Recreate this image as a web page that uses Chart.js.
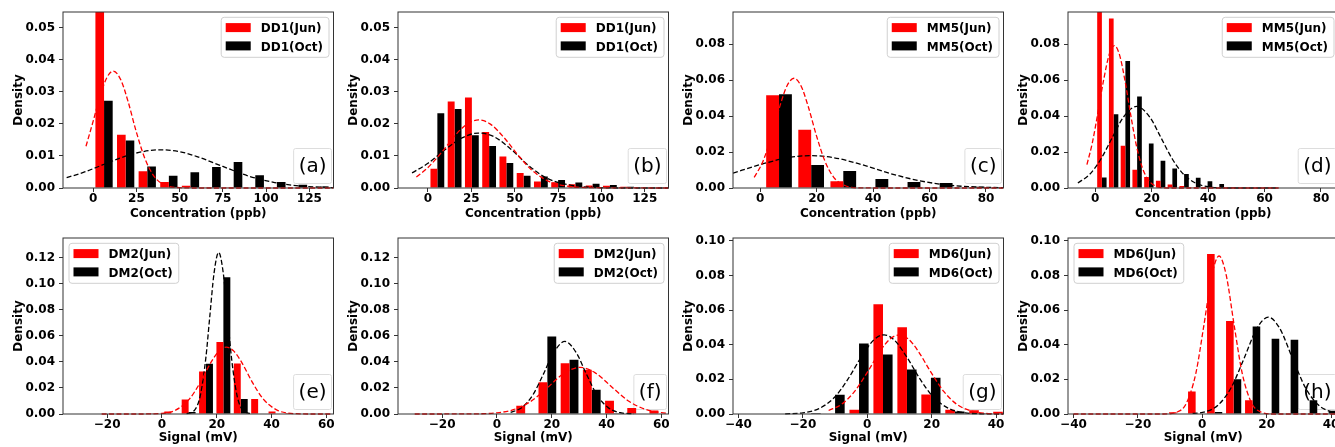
<!DOCTYPE html>
<html>
<head>
<meta charset="utf-8">
<script src="https://cdn.jsdelivr.net/npm/chart.js@4.4.1/dist/chart.umd.min.js"></script>
<style>
  body { margin: 0; background: #fff; overflow: hidden; }
  #fig { position: relative; width: 1335px; height: 447px; overflow: hidden; background: #fff; }
  #fig canvas { position: absolute; }
</style>
</head>
<body>
<div id="fig">
  <canvas id="pa" width="342" height="226" style="left:0px;top:0px"></canvas>
  <canvas id="pb" width="342" height="226" style="left:335px;top:0px"></canvas>
  <canvas id="pc" width="342" height="226" style="left:670px;top:0px"></canvas>
  <canvas id="pd" width="342" height="226" style="left:1005px;top:0px"></canvas>
  <canvas id="pe" width="342" height="221" style="left:0px;top:226px"></canvas>
  <canvas id="pf" width="342" height="221" style="left:335px;top:226px"></canvas>
  <canvas id="pg" width="342" height="221" style="left:670px;top:226px"></canvas>
  <canvas id="ph" width="342" height="221" style="left:1005px;top:226px"></canvas>
</div>
<script>
// tick labels
const xTicksAB = [0, 25, 50, 75, 100, 125];
const xTicksCD = [0, 20, 40, 60, 80];
const xTicksEF = [-20, 0, 20, 40, 60];
const xTicksGH = [-40, -20, 0, 20, 40];
const yTicksAB = [0, 0.01, 0.02, 0.03, 0.04, 0.05];
const yTicksCD = [0, 0.02, 0.04, 0.06, 0.08];
const yTicksEF = [0, 0.02, 0.04, 0.06, 0.08, 0.10, 0.12];
const yTicksGH = [0, 0.02, 0.04, 0.06, 0.08, 0.10];

// (a) DD1 concentration
const binsA = [6.25, 18.75, 31.25, 43.75, 56.25, 68.75, 81.25, 93.75, 106.25, 118.75, 131.25];
const junA = [0.0556, 0.0166, 0.0052, 0.0019, 0.0007, 0.0002, 0.0001, 0, 0, 0, 0];
const octA = [0.0272, 0.0148, 0.0067, 0.0038, 0.0049, 0.0065, 0.0081, 0.0040, 0.0019, 0.0010, 0.0005];
const junFitXA = [-4.2, 0, 4, 8, 11.6, 16, 20, 25, 30, 35, 40, 50, 60, 80, 110, 139];
const junFitYA = [0.0130, 0.0209, 0.0287, 0.0345, 0.0364, 0.0336, 0.0272, 0.0173, 0.0090, 0.0038, 0.0013, 0.0001, 0, 0, 0, 0];
const octFitXA = [-15.4, -5, 5, 15, 25, 39, 50, 60, 75, 90, 105, 120, 139];
const octFitYA = [0.0032, 0.0050, 0.0071, 0.0092, 0.0109, 0.0119, 0.0113, 0.0098, 0.0067, 0.0037, 0.0017, 0.0006, 0.0001];

// (b) DD1 concentration
const binsB = [5.4, 15.35, 25.3, 35.25, 45.2, 55.15, 65.1, 75.05, 85.0, 94.95, 104.9, 114.85];
const junB = [0.0060, 0.0269, 0.0282, 0.0174, 0.0098, 0.0047, 0.0020, 0.0018, 0.0012, 0.0008, 0.0007, 0.0004];
const octB = [0.0233, 0.0246, 0.0164, 0.0131, 0.0078, 0.0038, 0.0036, 0.0025, 0.0017, 0.0013, 0.0009, 0.0004];
const junFitXB = [-6.7, 0, 8, 16, 22, 29.2, 36, 44, 52, 60, 70, 80, 95, 139];
const junFitYB = [0.0034, 0.0064, 0.0112, 0.0166, 0.0197, 0.0212, 0.0199, 0.0156, 0.0102, 0.0055, 0.0020, 0.0006, 0.0001, 0];
const octFitXB = [-9.2, 0, 10, 20, 29, 38, 48, 58, 68, 80, 95, 115, 139];
const octFitYB = [0.0047, 0.0077, 0.0120, 0.0157, 0.0171, 0.0160, 0.0120, 0.0070, 0.0032, 0.0011, 0.0002, 0, 0];

// (c) MM5 concentration
const binsC = [6.7, 18.08, 29.46, 40.84, 52.22, 63.6, 74.98];
const junC = [0.0517, 0.0324, 0.0037, 0.0003, 0, 0, 0];
const octC = [0.0522, 0.0128, 0.0094, 0.0050, 0.0033, 0.0028, 0.0007];
const junFitXC = [-2.1, 1, 4, 7, 9.5, 12, 14.5, 17, 20, 23, 26, 30, 35, 45, 86];
const junFitYC = [0.0059, 0.0148, 0.0289, 0.0456, 0.0568, 0.0611, 0.0568, 0.0456, 0.0289, 0.0148, 0.0061, 0.0014, 0.0001, 0, 0];
const octFitXC = [-9.6, 0, 10, 18, 26, 36, 46, 56, 66, 76, 86];
const octFitYC = [0.0083, 0.0130, 0.0169, 0.0180, 0.0169, 0.0130, 0.0081, 0.0042, 0.0017, 0.0006, 0.0002];

// (d) MM5 concentration
const binsD = [2.4, 6.56, 10.72, 14.88, 19.04, 23.2, 27.36, 31.52, 35.68, 39.84, 44.0, 48.16, 52.32];
const junD = [0.0990, 0.0944, 0.0235, 0.0102, 0.0061, 0.0041, 0.0019, 0.0011, 0.0004, 0.0002, 0, 0, 0];
const octD = [0.0059, 0.0411, 0.0707, 0.0509, 0.0248, 0.0152, 0.0109, 0.0078, 0.0057, 0.0037, 0.0022, 0.0006, 0.0003];
const junFitXD = [-2.9, -1, 1, 3, 5, 6.8, 8.6, 10.6, 12.6, 14.6, 16.7, 19, 22, 26, 65];
const junFitYD = [0.0130, 0.0250, 0.0420, 0.0600, 0.0744, 0.0793, 0.0744, 0.0596, 0.0408, 0.0238, 0.0114, 0.0042, 0.0008, 0, 0];
const octFitXD = [-6.1, -2, 2, 6, 10, 14.7, 19.4, 23.4, 27.4, 31.4, 35.5, 40, 48, 65];
const octFitYD = [0.0028, 0.0075, 0.0160, 0.0278, 0.0394, 0.0454, 0.0394, 0.0278, 0.0160, 0.0075, 0.0028, 0.0007, 0, 0];

// (e) DM2 signal
const binsE = [-2.94, 3.4, 9.74, 16.08, 22.42, 28.76, 35.1, 41.44, 47.78];
const junE = [0.0005, 0.0020, 0.0112, 0.0327, 0.0552, 0.0388, 0.0115, 0.0020, 0.0008];
const octE = [0, 0, 0.0015, 0.0386, 0.1050, 0.0115, 0, 0, 0];
const junFitXE = [-22, -10, 0, 5, 10, 14, 18, 21, 23.5, 26, 29, 33, 37, 42, 47, 55, 62];
const junFitYE = [0, 0, 0.0005, 0.0030, 0.0114, 0.0243, 0.0400, 0.0487, 0.0513, 0.0487, 0.0400, 0.0243, 0.0114, 0.0030, 0.0005, 0, 0];
const octFitXE = [9, 12, 14, 16, 17.5, 19, 20.7, 22.4, 23.9, 25.4, 27.4, 29.4, 32.4];
const octFitYE = [0.0002, 0.0032, 0.0142, 0.0427, 0.0757, 0.1079, 0.1240, 0.1079, 0.0757, 0.0427, 0.0142, 0.0032, 0.0002];

// (f) DM2 signal
const binsF = [2.2, 10.3, 18.4, 26.5, 34.6, 42.7, 50.8, 58.9];
const junF = [0, 0.0064, 0.0243, 0.0390, 0.0340, 0.0102, 0.0046, 0.0026];
const octF = [0, 0, 0.0595, 0.0416, 0.0186, 0.0005, 0, 0];
const junFitXF = [-30, -10, 0, 6, 12, 18, 24, 30.3, 36, 42, 48, 54, 60, 62.6];
const junFitYF = [0, 0.0001, 0.0009, 0.0033, 0.0092, 0.0194, 0.0305, 0.0358, 0.0314, 0.0206, 0.0100, 0.0037, 0.0010, 0.0005];
const octFitXF = [5, 9, 13, 17, 20.5, 24.8, 29.1, 32.6, 36.6, 40.6, 44.6, 50];
const octFitYF = [0.0012, 0.0049, 0.0143, 0.0308, 0.0465, 0.0557, 0.0465, 0.0308, 0.0143, 0.0049, 0.0012, 0.0001];

// (g) MD6 signal
const binsG = [-17.44, -10.0, -2.56, 4.88, 12.32, 19.76, 27.2, 34.64, 42.08];
const junG = [0, 0, 0.0025, 0.0633, 0.0501, 0.0113, 0.0025, 0.0021, 0.0013];
const octG = [0.0006, 0.0111, 0.0407, 0.0344, 0.0257, 0.0209, 0.0015, 0.0005, 0];
const junFitXG = [-12, -8, -4, 0, 4, 7, 9.9, 12.8, 15.8, 19.8, 23.8, 27.8, 31.8, 36, 42.3];
const junFitYG = [0.0020, 0.0056, 0.0129, 0.0240, 0.0363, 0.0432, 0.0456, 0.0432, 0.0363, 0.0240, 0.0129, 0.0056, 0.0020, 0.0005, 0.0001];
const octFitXG = [-25.5, -20, -15, -10, -6, -2, 2, 5.2, 8.4, 12.4, 16.4, 20.4, 25.4, 30.4, 36, 42.3];
const octFitYG = [0.0001, 0.0007, 0.0031, 0.0100, 0.0201, 0.0325, 0.0427, 0.0457, 0.0427, 0.0325, 0.0201, 0.0100, 0.0031, 0.0007, 0.0001, 0];

// (h) MD6 signal
const binsH = [-25.66, -19.76, -13.86, -7.96, -2.06, 3.84, 9.74, 15.64, 21.54, 27.44, 33.34, 39.24];
const junH = [0.0003, 0, 0, 0.0010, 0.0130, 0.0923, 0.0537, 0.0079, 0.0004, 0, 0, 0];
const octH = [0, 0, 0, 0, 0.0003, 0.0012, 0.0200, 0.0505, 0.0434, 0.0428, 0.0079, 0.0019];
const junFitXH = [-40, -12, -8, -5, -2, 0.5, 3, 5.2, 7.4, 9.9, 12.4, 15.4, 18.4, 22, 42.3];
const junFitYH = [0, 0, 0.0010, 0.0060, 0.0235, 0.0512, 0.0804, 0.0912, 0.0804, 0.0512, 0.0235, 0.0060, 0.0010, 0, 0];
const octFitXH = [-3, 1, 5, 9, 13, 17, 20.5, 24, 28, 32, 36, 40, 42.3];
const octFitYH = [0.0003, 0.0013, 0.0053, 0.0153, 0.0322, 0.0496, 0.0559, 0.0496, 0.0322, 0.0153, 0.0053, 0.0013, 0.0005];

const FONT = '"DejaVu Sans", sans-serif';
Chart.defaults.font.family = FONT;
Chart.defaults.font.size = 12;
Chart.defaults.font.weight = 'bold';
Chart.defaults.color = '#000';

const rowTop = { xTitle: 'Concentration (ppb)', axisH: 38, titlePad: 4.8 };
const rowBottom = { xTitle: 'Signal (mV)', axisH: 33, titlePad: 1.8 };

const panels = [
  { id: 'pa', name: 'DD1', tag: '(a)', leg: 'right', row: rowTop, bins: binsA, jun: junA, oct: octA,
    jx: junFitXA, jy: junFitYA, ox: octFitXA, oy: octFitYA, xMin: -17.5, xMax: 139, yMax: 0.0548, xt: xTicksAB, yt: yTicksAB },
  { id: 'pb', name: 'DD1', tag: '(b)', leg: 'right', row: rowTop, bins: binsB, jun: junB, oct: octB,
    jx: junFitXB, jy: junFitYB, ox: octFitXB, oy: octFitYB, xMin: -17.3, xMax: 138.7, yMax: 0.0548, xt: xTicksAB, yt: yTicksAB },
  { id: 'pc', name: 'MM5', tag: '(c)', leg: 'right', row: rowTop, bins: binsC, jun: junC, oct: octC,
    jx: junFitXC, jy: junFitYC, ox: octFitXC, oy: octFitYC, xMin: -9.6, xMax: 86.2, yMax: 0.098, xt: xTicksCD, yt: yTicksCD },
  { id: 'pd', name: 'MM5', tag: '(d)', leg: 'right', row: rowTop, bins: binsD, jun: junD, oct: octD,
    jx: junFitXD, jy: junFitYD, ox: octFitXD, oy: octFitYD, xMin: -9.6, xMax: 86.2, yMax: 0.098, xt: xTicksCD, yt: yTicksCD },
  { id: 'pe', name: 'DM2', tag: '(e)', leg: 'left', row: rowBottom, bins: binsE, jun: junE, oct: octE,
    jx: junFitXE, jy: junFitYE, ox: octFitXE, oy: octFitYE, xMin: -36.1, xMax: 62.6, yMax: 0.1351, xt: xTicksEF, yt: yTicksEF },
  { id: 'pf', name: 'DM2', tag: '(f)', leg: 'right', row: rowBottom, bins: binsF, jun: junF, oct: octF,
    jx: junFitXF, jy: junFitYF, ox: octFitXF, oy: octFitYF, xMin: -36.1, xMax: 62.6, yMax: 0.1351, xt: xTicksEF, yt: yTicksEF },
  { id: 'pg', name: 'MD6', tag: '(g)', leg: 'right', row: rowBottom, bins: binsG, jun: junG, oct: octG,
    jx: junFitXG, jy: junFitYG, ox: octFitXG, oy: octFitYG, xMin: -41.7, xMax: 42.3, yMax: 0.1016, xt: xTicksGH, yt: yTicksGH },
  { id: 'ph', name: 'MD6', tag: '(h)', leg: 'left', row: rowBottom, bins: binsH, jun: junH, oct: octH,
    jx: junFitXH, jy: junFitYH, ox: octFitXH, oy: octFitYH, xMin: -41.7, xMax: 42.3, yMax: 0.1016, xt: xTicksGH, yt: yTicksGH }
];

function pts(xs, ys) {
  return xs.map((x, i) => ({ x: x, y: ys[i] }));
}

// legend box, (a) tag box and the axes frame, matplotlib style
function decor(p) {
  return {
    id: 'decor',
    beforeDatasetsDraw(chart) {
      const ctx = chart.ctx, a = chart.chartArea;
      ctx.save();
      ctx.font = '20px ' + FONT;
      const w = ctx.measureText(p.tag).width + 10, h = 35;
      const x = a.right - 2 - w, y = a.bottom - 4.5 - h;
      ctx.fillStyle = '#fff';
      ctx.strokeStyle = '#dddddd';
      ctx.lineWidth = 1;
      ctx.beginPath();
      ctx.roundRect(x, y, w, h, 2);
      ctx.fill();
      ctx.stroke();
      ctx.fillStyle = '#000';
      ctx.textAlign = 'center';
      ctx.textBaseline = 'middle';
      ctx.fillText(p.tag, x + w / 2, y + h / 2 + 1);
      ctx.restore();
    },
    afterDatasetsDraw(chart) {
      const ctx = chart.ctx, a = chart.chartArea;
      const bars = chart.data.datasets.filter(d => d.type === 'bar');
      ctx.save();
      ctx.font = 'bold 12px ' + FONT;
      const tw = Math.max(...bars.map(d => ctx.measureText(d.label).width));
      const w = 39.5 + tw + 6, h = 40;
      const x = p.leg === 'left' ? a.left + 6 : a.right - 4.5 - w;
      const y = a.top + 5.3;
      ctx.fillStyle = 'rgba(255,255,255,0.8)';
      ctx.strokeStyle = '#d0d0d0';
      ctx.lineWidth = 1;
      ctx.beginPath();
      ctx.roundRect(x, y, w, h, 3);
      ctx.fill();
      ctx.stroke();
      bars.forEach((d, i) => {
        ctx.fillStyle = d.backgroundColor;
        ctx.fillRect(x + 4.5, y + 5.8 + i * 18.3, 25, 9);
        ctx.fillStyle = '#000';
        ctx.textAlign = 'left';
        ctx.textBaseline = 'middle';
        ctx.fillText(d.label, x + 39.5, y + 11.8 + i * 18.3);
      });
      ctx.strokeStyle = '#333';
      ctx.lineWidth = 1;
      ctx.strokeRect(a.left, a.top, a.right - a.left, a.bottom - a.top);
      ctx.restore();
    }
  };
}

function makePanel(p) {
  const lineClip = { left: 0, top: 0, right: 0, bottom: 2 };
  new Chart(document.getElementById(p.id), {
    type: 'bar',
    data: {
      datasets: [
        { type: 'bar', label: p.name + '(Jun)', data: pts(p.bins, p.jun), backgroundColor: '#ff0000',
          borderWidth: 0, barPercentage: 1, categoryPercentage: 0.8, order: 1, clip: 0 },
        { type: 'bar', label: p.name + '(Oct)', data: pts(p.bins, p.oct), backgroundColor: '#000000',
          borderWidth: 0, barPercentage: 1, categoryPercentage: 0.8, order: 1, clip: 0 },
        { type: 'line', data: pts(p.jx, p.jy), borderColor: '#ff0000', borderWidth: 1.3, borderDash: [5, 2.4],
          pointRadius: 0, fill: false, cubicInterpolationMode: 'monotone', order: 0, clip: lineClip },
        { type: 'line', data: pts(p.ox, p.oy), borderColor: '#000000', borderWidth: 1.3, borderDash: [5, 2.4],
          pointRadius: 0, fill: false, cubicInterpolationMode: 'monotone', order: 0, clip: lineClip }
      ]
    },
    options: {
      responsive: false,
      animation: false,
      events: [],
      layout: { padding: { left: 0, right: 8.5, top: 12, bottom: 0 } },
      plugins: { legend: { display: false }, tooltip: { enabled: false } },
      scales: {
        x: {
          type: 'linear', min: p.xMin, max: p.xMax, offset: false,
          grid: { offset: false, drawOnChartArea: false, tickLength: 4, color: '#333' },
          border: { display: false },
          afterBuildTicks: s => { s.ticks = p.xt.map(v => ({ value: v })); },
          afterFit: s => { s.height = p.row.axisH; },
          ticks: { padding: 0, maxRotation: 0, callback: v => v < 0 ? '\u2212' + Math.abs(v) : String(v) },
          title: { display: true, text: p.row.xTitle, padding: { top: 0, bottom: p.row.titlePad } }
        },
        y: {
          type: 'linear', min: 0, max: p.yMax,
          grid: { drawOnChartArea: false, tickLength: 4, color: '#333' },
          border: { display: false },
          afterBuildTicks: s => { s.ticks = p.yt.map(v => ({ value: v })); },
          afterFit: s => { s.width = 63; },
          ticks: { padding: 4, callback: v => v.toFixed(2) },
          title: { display: true, text: 'Density', padding: { top: 11.5, bottom: 0 } }
        }
      }
    },
    plugins: [decor(p)]
  });
}

panels.forEach(makePanel);
</script>
</body>
</html>
